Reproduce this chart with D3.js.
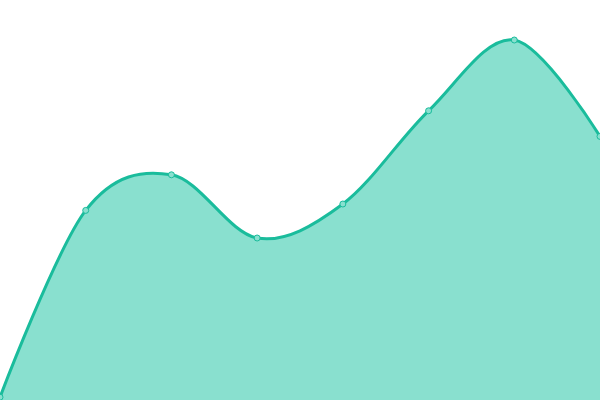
<!DOCTYPE html>
<html lang="en">
<head>
    <meta charset="UTF-8">
    <title>Smooth Area</title>
    <script src="https://d3js.org/d3.v7.min.js"></script>
    <style>
        html, body { margin: 0; padding: 0; background: #fff; }
        svg { display: block; }
        .area { fill: #89e0cf; }
        .line { fill: none; stroke: #1abc9c; stroke-width: 3px; }
        .dot { fill: #89e0cf; stroke: #1abc9c; stroke-width: 1px; }
    </style>
</head>
<body>
    <svg id="chart" width="600" height="400"></svg>
    <script>
        // data
        const categories = ['A', 'B', 'C', 'D', 'E', 'F', 'G', 'H'];
        const values = [0.7, 47.4, 56.3, 40.5, 49, 72.3, 90, 65.9];

        const width = 600, height = 400;
        const svg = d3.select('#chart');

        const x = d3.scalePoint()
            .domain(categories)
            .range([0, width]);

        const y = d3.scaleLinear()
            .domain([0, 100])
            .range([height, 0]);

        const data = categories.map((c, i) => ({ cat: c, value: values[i] }));

        const curve = d3.curveCardinal;

        const area = d3.area()
            .x(d => x(d.cat))
            .y0(y(0))
            .y1(d => y(d.value))
            .curve(curve);

        const line = d3.line()
            .x(d => x(d.cat))
            .y(d => y(d.value))
            .curve(curve);

        svg.append('path')
            .datum(data)
            .attr('class', 'area')
            .attr('d', area);

        svg.append('path')
            .datum(data)
            .attr('class', 'line')
            .attr('d', line);

        svg.selectAll('.dot')
            .data(data)
            .enter().append('circle')
            .attr('class', 'dot')
            .attr('cx', d => x(d.cat))
            .attr('cy', d => y(d.value))
            .attr('r', 3);
    </script>
</body>
</html>
